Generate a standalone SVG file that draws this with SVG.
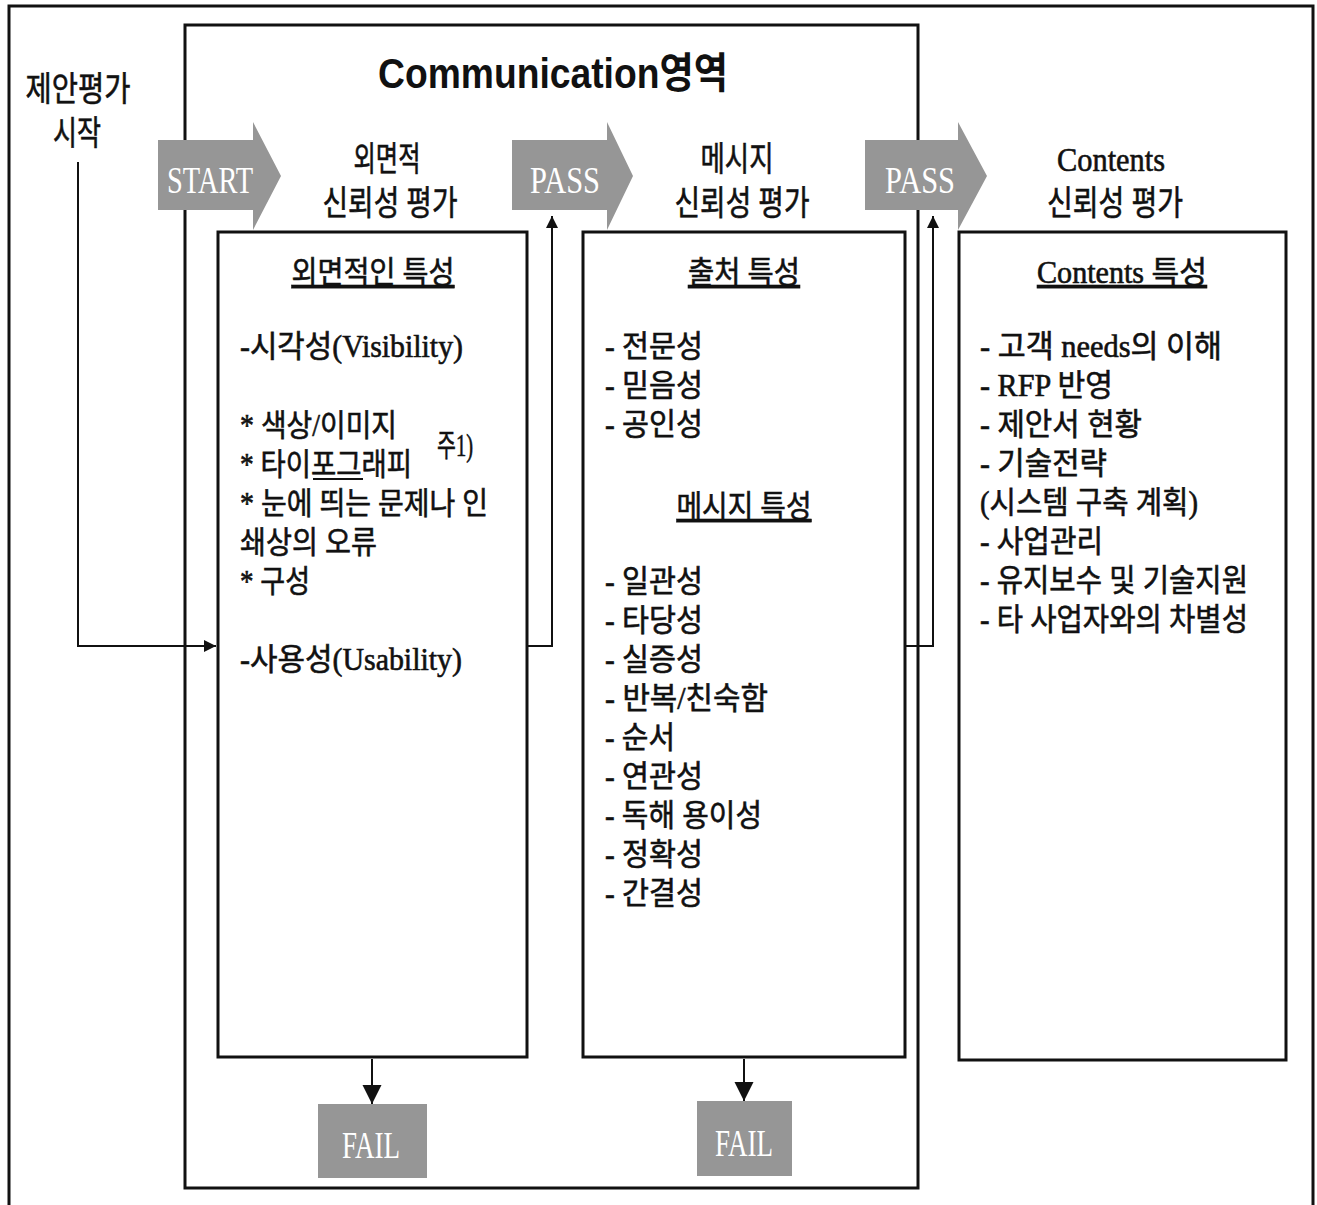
<svg xmlns="http://www.w3.org/2000/svg" width="1317" height="1205" viewBox="0 0 1317 1205">
<defs>
<style>
.frame{fill:none;stroke:#111;stroke-width:3}
.box{fill:#fff;stroke:#111;stroke-width:3}
.gray{fill:#969696}
.lbl{font-family:"Liberation Serif","Noto Sans CJK KR",serif;font-size:31px;fill:#111;stroke:#111;stroke-width:0.6}
.ttl{font-family:"Liberation Serif","Noto Sans CJK KR",serif;font-size:34px;fill:#111;stroke:#111;stroke-width:0.6;text-anchor:middle}
.hd{font-family:"Liberation Serif","Noto Sans CJK KR",serif;font-size:31px;fill:#111;stroke:#111;stroke-width:0.6;text-anchor:middle;text-decoration:underline}
.wt{font-family:"Liberation Serif",serif;font-size:38px;fill:#fff;text-anchor:middle}
.conn{fill:none;stroke:#111;stroke-width:2}
</style>
<marker id="ah" viewBox="0 0 10 10" refX="10" refY="5" markerUnits="userSpaceOnUse" markerWidth="14" markerHeight="12" orient="auto">
<path d="M0,0 L10,5 L0,10 z" fill="#111"/>
</marker>
<marker id="ahL" viewBox="0 0 10 10" refX="10" refY="5" markerUnits="userSpaceOnUse" markerWidth="19" markerHeight="22" orient="auto">
<path d="M0,0 L10,5 L0,10 z" fill="#111"/>
</marker>
</defs>
<rect x="0" y="0" width="1317" height="1205" fill="#fff"/>

<g id="outer-frame">
<rect class="frame" x="9" y="6" width="1304" height="1215" stroke-width="3.5"/>
</g>

<g id="communication-area">
<rect class="frame" x="185" y="25" width="733" height="1163" stroke-width="2.5"/>
<text x="378" y="88" font-family="'Liberation Sans','Noto Sans CJK KR',sans-serif" font-size="42" font-weight="bold" fill="#111" textLength="350" lengthAdjust="spacingAndGlyphs">Communication영역</text>
</g>

<g id="start-label">
<text class="ttl" x="78" y="101" textLength="105" lengthAdjust="spacingAndGlyphs">제안평가</text>
<text class="ttl" x="77" y="145" textLength="48" lengthAdjust="spacingAndGlyphs">시작</text>
</g>

<g id="start-arrow">
<polygon class="gray" points="158,140 253,140 253,122 281,176 253,230 253,210 158,210"/>
<text class="wt" x="210" y="193" textLength="86" lengthAdjust="spacingAndGlyphs">START</text>
</g>

<g id="pass-arrow-1">
<polygon class="gray" points="512,140 607,140 607,122 633,176 607,230 607,210 512,210"/>
<text class="wt" x="565" y="193" textLength="70" lengthAdjust="spacingAndGlyphs">PASS</text>
</g>

<g id="pass-arrow-2">
<polygon class="gray" points="865,140 958,140 958,122 987,176 958,230 958,210 865,210"/>
<text class="wt" x="920" y="193" textLength="70" lengthAdjust="spacingAndGlyphs">PASS</text>
</g>

<g id="title-1">
<text class="ttl" x="387" y="171" textLength="67" lengthAdjust="spacingAndGlyphs">외면적</text>
<text class="ttl" x="390" y="215" textLength="135" lengthAdjust="spacingAndGlyphs">신뢰성 평가</text>
</g>
<g id="title-2">
<text class="ttl" x="737" y="171" textLength="73" lengthAdjust="spacingAndGlyphs">메시지</text>
<text class="ttl" x="742" y="215" textLength="135" lengthAdjust="spacingAndGlyphs">신뢰성 평가</text>
</g>
<g id="title-3">
<text class="ttl" x="1111" y="171" textLength="108" lengthAdjust="spacingAndGlyphs">Contents</text>
<text class="ttl" x="1115" y="215" textLength="136" lengthAdjust="spacingAndGlyphs">신뢰성 평가</text>
</g>

<g id="box-appearance">
<rect class="box" x="218" y="232" width="309" height="825"/>
<text class="hd" x="373" y="283" textLength="163" lengthAdjust="spacingAndGlyphs">외면적인 특성</text>
<text class="lbl" x="240" y="357" textLength="223" lengthAdjust="spacingAndGlyphs">-시각성(Visibility)</text>
<text class="lbl" x="240" y="436" textLength="157" lengthAdjust="spacingAndGlyphs">* 색상/이미지</text>
<text class="lbl" x="437" y="456" font-size="22" stroke-width="0.3" textLength="36" lengthAdjust="spacingAndGlyphs">주1)</text>
<text class="lbl" x="240" y="475" textLength="172" lengthAdjust="spacingAndGlyphs">* 타이포그래피</text>
<line x1="313" y1="479" x2="363" y2="479" stroke="#111" stroke-width="2"/>
<text class="lbl" x="240" y="514" textLength="248" lengthAdjust="spacingAndGlyphs">* 눈에 띄는 문제나 인</text>
<text class="lbl" x="240" y="553" textLength="137" lengthAdjust="spacingAndGlyphs">쇄상의 오류</text>
<text class="lbl" x="240" y="592" textLength="70" lengthAdjust="spacingAndGlyphs">* 구성</text>
<text class="lbl" x="240" y="670" textLength="222" lengthAdjust="spacingAndGlyphs">-사용성(Usability)</text>
</g>

<g id="box-message">
<rect class="box" x="583" y="232" width="322" height="825"/>
<text class="hd" x="744" y="283" textLength="112" lengthAdjust="spacingAndGlyphs">출처 특성</text>
<text class="lbl" x="605" y="357" textLength="98" lengthAdjust="spacingAndGlyphs">- 전문성</text>
<text class="lbl" x="605" y="396" textLength="98" lengthAdjust="spacingAndGlyphs">- 믿음성</text>
<text class="lbl" x="605" y="435" textLength="98" lengthAdjust="spacingAndGlyphs">- 공인성</text>
<text class="hd" x="744" y="517" textLength="135" lengthAdjust="spacingAndGlyphs">메시지 특성</text>
<text class="lbl" x="605" y="592" textLength="98" lengthAdjust="spacingAndGlyphs">- 일관성</text>
<text class="lbl" x="605" y="631" textLength="98" lengthAdjust="spacingAndGlyphs">- 타당성</text>
<text class="lbl" x="605" y="670" textLength="98" lengthAdjust="spacingAndGlyphs">- 실증성</text>
<text class="lbl" x="605" y="709" textLength="163" lengthAdjust="spacingAndGlyphs">- 반복/친숙함</text>
<text class="lbl" x="605" y="748" textLength="70" lengthAdjust="spacingAndGlyphs">- 순서</text>
<text class="lbl" x="605" y="787" textLength="98" lengthAdjust="spacingAndGlyphs">- 연관성</text>
<text class="lbl" x="605" y="826" textLength="157" lengthAdjust="spacingAndGlyphs">- 독해 용이성</text>
<text class="lbl" x="605" y="865" textLength="98" lengthAdjust="spacingAndGlyphs">- 정확성</text>
<text class="lbl" x="605" y="904" textLength="98" lengthAdjust="spacingAndGlyphs">- 간결성</text>
</g>

<g id="box-contents">
<rect class="box" x="959" y="232" width="327" height="828"/>
<text class="hd" x="1122" y="283" textLength="170" lengthAdjust="spacingAndGlyphs">Contents 특성</text>
<text class="lbl" x="980" y="357" textLength="242" lengthAdjust="spacingAndGlyphs">- 고객 needs의 이해</text>
<text class="lbl" x="980" y="396" textLength="133" lengthAdjust="spacingAndGlyphs">- RFP 반영</text>
<text class="lbl" x="980" y="435" textLength="162" lengthAdjust="spacingAndGlyphs">- 제안서 현황</text>
<text class="lbl" x="980" y="474" textLength="127" lengthAdjust="spacingAndGlyphs">- 기술전략</text>
<text class="lbl" x="980" y="513" textLength="218" lengthAdjust="spacingAndGlyphs">(시스템 구축 계획)</text>
<text class="lbl" x="980" y="552" textLength="123" lengthAdjust="spacingAndGlyphs">- 사업관리</text>
<text class="lbl" x="980" y="591" textLength="268" lengthAdjust="spacingAndGlyphs">- 유지보수 및 기술지원</text>
<text class="lbl" x="980" y="630" textLength="268" lengthAdjust="spacingAndGlyphs">- 타 사업자와의 차별성</text>
</g>

<g id="fail-1">
<rect class="gray" x="318" y="1104" width="109" height="74"/>
<text class="wt" x="371" y="1158" textLength="58" lengthAdjust="spacingAndGlyphs">FAIL</text>
</g>
<g id="fail-2">
<rect class="gray" x="697" y="1101" width="95" height="75"/>
<text class="wt" x="744" y="1156" textLength="58" lengthAdjust="spacingAndGlyphs">FAIL</text>
</g>

<g id="connectors">
<polyline class="conn" points="78,162 78,646 216,646" marker-end="url(#ah)"/>
<polyline class="conn" points="528,646 552,646 552,216" marker-end="url(#ah)"/>
<polyline class="conn" points="906,646 933,646 933,216" marker-end="url(#ah)"/>
<line class="conn" x1="372" y1="1059" x2="372" y2="1104" marker-end="url(#ahL)"/>
<line class="conn" x1="744" y1="1059" x2="744" y2="1101" marker-end="url(#ahL)"/>
</g>
</svg>
